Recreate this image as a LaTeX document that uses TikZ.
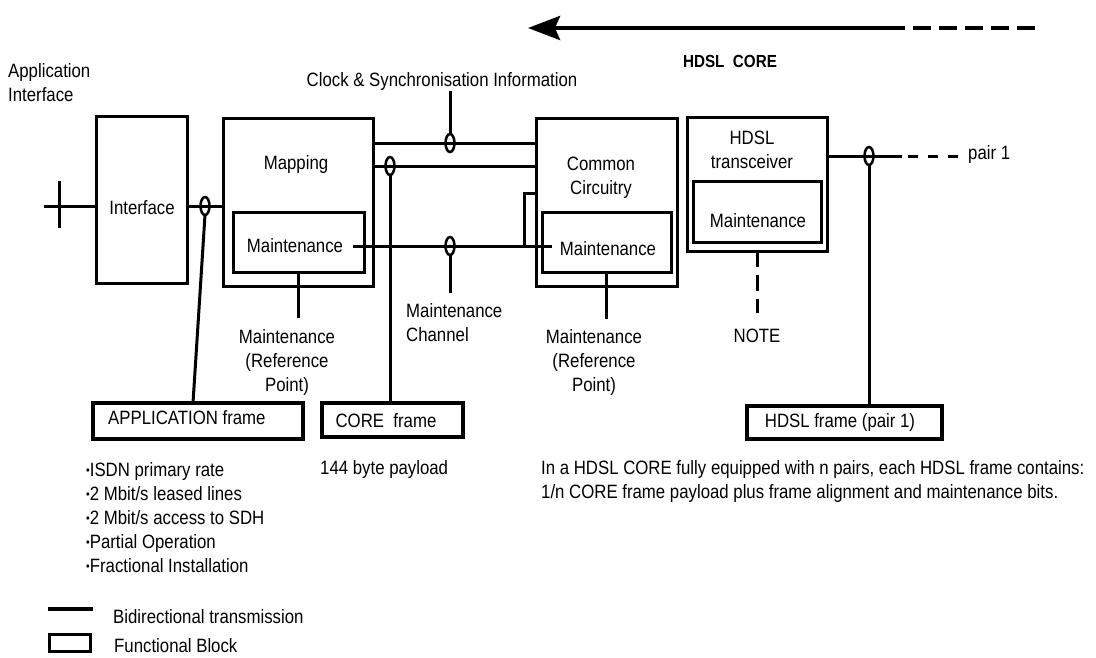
\documentclass[tikz,border=0pt]{standalone}
\usepackage{fontspec}
\setmainfont{Liberation Sans}[FakeStretch=0.87]
\usetikzlibrary{arrows.meta,shapes.geometric}
\def\wire{\draw[line width=3pt]}
\def\fat{\draw[line width=4pt]}
\def\bul{{\fontsize{12}{12}\selectfont\raisebox{1.5pt}{•}}}

\begin{document}
\begin{tikzpicture}[x=1pt,y=-1pt,font=\fontsize{19.3}{24}\selectfont,
    blk/.style={draw,line width=3pt,inner sep=0pt,outer sep=0pt},
    frm/.style={blk,line width=4pt},
    ring/.style={draw,ellipse,line width=2.5pt,minimum width=9pt,minimum height=18pt,inner sep=0pt,outer sep=0pt},
    txt/.style={inner sep=0pt,align=center}]
                \useasboundingbox (0,0) rectangle (1096,657);
                \coordinate (tip) at (528,28);
                \coordinate (solid) at (898,28);
                \coordinate (far) at (1035,28);
                \fat[dash pattern=on 18pt off 8pt] (far) -- (solid);
                \fat[-{Stealth[length=32pt,width=24pt,inset=5pt]}] (solid) -- (tip);
                \node[txt,font=\fontsize{17.5}{20}\selectfont\bfseries] (core) at (730,61) {HDSL\ \ CORE};
                \node[txt,align=left,anchor=west] (appl) at (8,83) {Application\\Interface};
                \node[txt] (clock) at (442,82) {Clock \& Synchronisation Information};
                \node[blk,minimum width=91pt,minimum height=167pt] (iface) at (141.5,199.5) {};
                \node[txt] at (142,208) {Interface};
                \node[blk,minimum width=150pt,minimum height=168pt] (map) at (298,202) {};
                \node[txt] at (296,165) {Mapping};
                \node[blk,minimum width=131pt,minimum height=60pt] (mapm) at (298.5,242) {};
                \node[txt] at (295,246) {Maintenance};
                \node[blk,minimum width=141pt,minimum height=168pt] (comm) at (606.5,202) {};
                \node[txt] at (601,178) {Common\\Circuitry};
                \node[blk,minimum width=129pt,minimum height=60pt] (commm) at (606.5,242) {};
                \node[txt] at (608,249) {Maintenance};
                \node[blk,minimum width=140pt,minimum height=134pt] (hdsl) at (757,184) {};
                \node[txt] at (752,150) {HDSL\\transceiver};
                \node[blk,minimum width=128pt,minimum height=61pt] (hdslm) at (757,211.5) {};
                \node[txt] at (758,221) {Maintenance};
                \node[frm,minimum width=210pt,minimum height=36pt] (appf) at (198,421) {};
                \node[txt,anchor=west] at (108,418) {APPLICATION frame};
                \node[frm,minimum width=141pt,minimum height=34pt] (coref) at (392.5,420) {};
                \node[txt] at (386,421) {CORE\ \ frame};
                \node[frm,minimum width=195pt,minimum height=33pt] (hdslf) at (844.5,422.5) {};
                \node[txt] at (840,423) {HDSL frame (pair 1)};
                \node[ring] (r1) at (205,206) {};
                \node[ring] (r2) at (450,143) {};
                \node[ring] (r3) at (390,166) {};
                \node[ring] (r4) at (450,246) {};
                \node[ring] (r5) at (869,156) {};
                \coordinate (in) at (44,206);
                \coordinate (tickT) at (59,181);
                \coordinate (tickB) at (59,228);
                \wire (in) -- (iface.west |- in);
                \wire (tickT) -- (tickB);
                \wire (iface.east |- r1) -- (map.west |- r1);
                \wire (r1.south) -- ([xshift=-5pt]appf.north);
                \wire (map.east |- r2) -- (comm.west |- r2);
                \wire (map.east |- r3) -- (comm.west |- r3);
                \wire (r2.north) -- (r2.north |- clock.south);
                \wire (r3.south) -- (r3.south |- coref.north);
                \wire ([xshift=-11pt]mapm.east |- r4) -- ([xshift=10pt]commm.west |- r4);
                \coordinate (brT) at (524,193);
                \coordinate (brB) at (524,248);
                \wire (comm.west |- brT) -- (brT) -- (brB);
                \wire (r4.south) -- ++(0,38);
                \node[txt,align=left,anchor=west] (chan) at (406,322.5) {Maintenance\\Channel};
                \wire (mapm.south) -- ++(0,46);
                \wire (commm.south) -- ++(0,47);
                \node[txt] (mref) at (287,362) {Maintenance\\(Reference\\Point)};
                \node[txt] (cref) at (594,362) {Maintenance\\(Reference\\Point)};
                \coordinate (p1) at (902,156);
                \coordinate (p1d) at (908,156);
                \node[txt,anchor=west] (pair) at (968,155) {pair 1};
                \wire (hdsl.east |- r5) -- (p1);
                \wire[dash pattern=on 10pt off 10pt] (p1d) -- (pair.west |- p1d);
                \wire (r5.south) -- (r5.south |- hdslf.north);
                \node[txt] (note) at (757,336) {NOTE};
                \wire[dash pattern=on 16pt off 8pt] (hdsl.south) -- ++(0,62);
                \node[txt,align=left,anchor=west] (apps) at (86,517.5) {\bul ISDN primary rate\\\bul 2 Mbit/s leased lines\\\bul 2 Mbit/s access to SDH\\\bul Partial Operation\\\bul Fractional Installation};
                \node[txt,anchor=west] (pay) at (320,470) {144 byte payload};
                \node[txt,align=left,anchor=west] (expl) at (541,481.5) {In a HDSL CORE fully equipped with n pairs, each HDSL frame contains:\\1/n CORE frame payload plus frame alignment and maintenance bits.};
                \coordinate (lgA) at (48,609);
                \coordinate (lgB) at (93,609);
                \fat (lgA) -- (lgB);
                \node[txt,anchor=west] (bidi) at (113,617) {Bidirectional transmission};
                \node[blk,minimum width=41pt,minimum height=17pt] (lgbox) at (69.5,642.5) {};
                \node[txt,anchor=west] (func) at (114,646) {Functional Block};
            \end{tikzpicture}
\end{document}
